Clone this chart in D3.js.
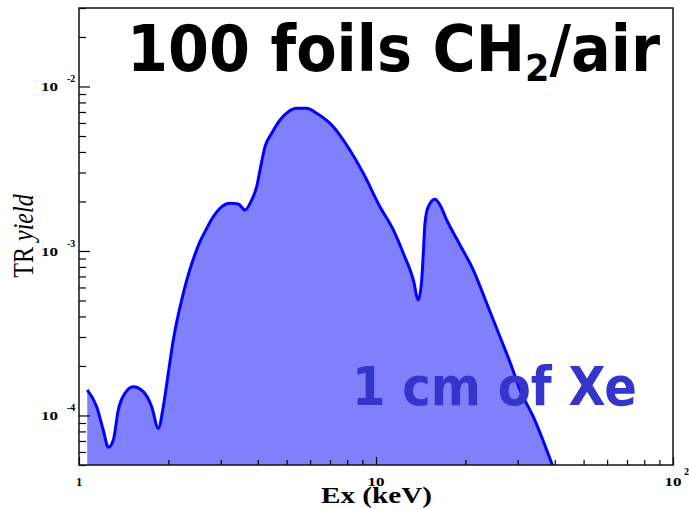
<!DOCTYPE html>
<meta charset="utf-8">
<style>
body { margin: 0; background: #fff; }
svg { display: block; }
.tick line { stroke: #000; stroke-width: 1.2; }
</style>
<body>
<div class="viz"></div>
<script src="https://d3js.org/d3.v7.min.js"></script>
<script>
// TR spectrum (energy in keV, yield per keV)
const energy = [1.066, 1.147, 1.207, 1.255, 1.305, 1.356, 1.428, 1.523, 1.646, 1.757,
  1.849, 1.922, 1.998, 2.077, 2.245, 2.555, 2.692, 2.833, 2.984, 3.225,
  3.439, 3.622, 3.815, 3.966, 4.07, 4.23, 4.456, 4.752, 5.068, 5.408,
  5.845, 6.314, 7.181, 7.965, 9.064, 10.31, 11.44, 12.36, 13.36, 13.88,
  14.25, 14.43, 14.62, 15.0, 15.80, 16.43, 17.30, 19.18, 21.27, 23.59,
  26.15, 28.64, 30.53, 33.85, 39.05, 40.4];
const trYield = [1.43e-4, 1.13e-4, 8.16e-5, 6.41e-5, 7.10e-5, 1.08e-4, 1.365e-4, 1.497e-4, 1.396e-4, 1.131e-4,
  8.36e-5, 1.131e-4, 1.805e-4, 2.877e-4, 5.53e-4, 1.139e-3, 1.374e-3, 1.616e-3, 1.818e-3, 1.95e-3,
  1.931e-3, 1.775e-3, 2.042e-3, 2.46e-3, 3.108e-3, 4.305e-3, 5.195e-3, 6.256e-3, 7.026e-3, 7.37e-3,
  7.37e-3, 6.87e-3, 5.695e-3, 4.41e-3, 2.967e-3, 1.859e-3, 1.342e-3, 9.68e-4, 6.66e-4, 5.04e-4,
  6.66e-4, 9.68e-4, 1.474e-3, 1.859e-3, 2.062e-3, 1.904e-3, 1.543e-3, 1.088e-3, 7.66e-4, 4.81e-4,
  3.013e-4, 1.98e-4, 1.43e-4, 9.83e-5, 5.12e-5, 4.35e-5];

const xMajor = [1, 10, 100];
const xLabels = ["1", "10", "10"];
const xExps = ["", "", "2"];
const yMajor = [1e-2, 1e-3, 1e-4];
const yExps = ["-2", "-3", "-4"];

const margin = {top: 8, right: 16, bottom: 44, left: 79},
  width = 689 - margin.left - margin.right,
  height = 509 - margin.top - margin.bottom;

const svgRoot = d3.select(".viz").append("svg")
  .attr("width", 689)
  .attr("height", 509);

const svg = svgRoot.append("g")
  .attr("transform", "translate(" + margin.left + "," + margin.top + ")");

const x = d3.scaleLog().domain([1, 100]).range([0, width]);
const y = d3.scaleLog().domain([5e-5, 0.03]).range([height, 0]);

const defs = svgRoot.append("defs");
defs.append("clipPath").attr("id", "plot-clip")
  .append("rect").attr("width", width).attr("height", height);

const data = energy.map((e, i) => ({e: e, v: trYield[i]}));

const area = d3.area()
  .x(d => x(d.e))
  .y0(height)
  .y1(d => y(d.v))
  .curve(d3.curveMonotoneX);

const line = d3.line()
  .x(d => x(d.e))
  .y(d => y(d.v))
  .curve(d3.curveMonotoneX);

const plot = svg.append("g").attr("clip-path", "url(#plot-clip)");

plot.append("path")
  .datum(data)
  .attr("d", area)
  .attr("fill", "#8080fb");

plot.append("path")
  .datum(data)
  .attr("d", line)
  .attr("fill", "none")
  .attr("stroke", "#0000ff")
  .attr("stroke-width", 3)
  .attr("stroke-linejoin", "round");

// ticks point inwards, as in ROOT
const xMinor = x.ticks().filter(t => xMajor.indexOf(t) < 0);
const yMinor = y.ticks().filter(t => yMajor.indexOf(t) < 0);

svg.append("g")
  .attr("transform", "translate(0," + height + ")")
  .call(d3.axisBottom(x).tickValues(xMinor).tickSize(-5).tickFormat(""))
  .call(g => g.select(".domain").remove());
svg.append("g")
  .attr("transform", "translate(0," + height + ")")
  .call(d3.axisBottom(x).tickValues(xMajor).tickSize(-8).tickFormat(""))
  .call(g => g.select(".domain").remove());

svg.append("g")
  .call(d3.axisLeft(y).tickValues(yMinor).tickSize(-7).tickFormat(""))
  .call(g => g.select(".domain").remove());
svg.append("g")
  .call(d3.axisLeft(y).tickValues(yMajor).tickSize(-11).tickFormat(""))
  .call(g => g.select(".domain").remove());

// frame
svg.append("rect")
  .attr("width", width)
  .attr("height", height)
  .attr("fill", "none")
  .attr("stroke", "#111")
  .attr("stroke-width", 1.5);

// tick labels
const lab = svg.append("g")
  .style("font-family", "'Liberation Serif', serif")
  .style("font-weight", "bold")
  .style("fill", "#000");

yMajor.forEach((v, i) => {
  lab.append("text")
    .attr("x", -21)
    .attr("y", y(v) + 5)
    .attr("text-anchor", "end")
    .attr("textLength", 17)
    .attr("lengthAdjust", "spacingAndGlyphs")
    .style("font-size", "12.5px")
    .text("10");
  lab.append("text")
    .attr("x", -12)
    .attr("y", y(v) - 4)
    .style("font-size", "10px")
    .text(yExps[i]);
});

xMajor.forEach((v, i) => {
  const t = lab.append("text")
    .attr("x", x(v))
    .attr("y", height + 21)
    .attr("text-anchor", "middle")
    .style("font-size", "12.5px")
    .text(xLabels[i]);
  if (xLabels[i].length > 1) {
    t.attr("textLength", 17).attr("lengthAdjust", "spacingAndGlyphs");
  }
  if (xExps[i]) {
    lab.append("text")
      .attr("x", x(v) + 11)
      .attr("y", height + 10)
      .style("font-size", "10px")
      .text(xExps[i]);
  }
});

// axis titles
svg.append("text")
  .attr("x", x(10) + 0.5)
  .attr("y", height + 38)
  .attr("text-anchor", "middle")
  .attr("textLength", 111)
  .attr("lengthAdjust", "spacingAndGlyphs")
  .style("font-family", "'Liberation Serif', serif")
  .style("font-weight", "bold")
  .style("font-size", "24px")
  .text("Ex (keV)");

const ylab = svgRoot.append("text")
  .attr("transform", "translate(33,236) scale(1.27,1) rotate(-90)")
  .attr("text-anchor", "middle")
  .style("font-family", "'Liberation Serif', serif")
  .style("font-size", "24px");
ylab.append("tspan").text("TR ");
ylab.append("tspan").style("font-style", "italic").text("yield");

// big annotations
const title = svgRoot.append("text")
  .attr("x", 127)
  .attr("y", 71)
  .attr("textLength", 533)
  .attr("lengthAdjust", "spacingAndGlyphs")
  .style("font-family", "'DejaVu Sans', sans-serif")
  .style("font-weight", "bold")
  .style("font-size", "64px")
  .style("fill", "#000");
title.append("tspan").text("100 foils CH");
title.append("tspan").attr("dy", 10).style("font-size", "38px").text("2");
title.append("tspan").attr("dy", -10).text("/air");

svgRoot.append("text")
  .attr("x", 352)
  .attr("y", 405)
  .attr("textLength", 285)
  .attr("lengthAdjust", "spacingAndGlyphs")
  .style("font-family", "'DejaVu Sans', sans-serif")
  .style("font-weight", "bold")
  .style("font-size", "54px")
  .style("fill", "#3535cc")
  .text("1 cm of Xe");
</script>
</body>
